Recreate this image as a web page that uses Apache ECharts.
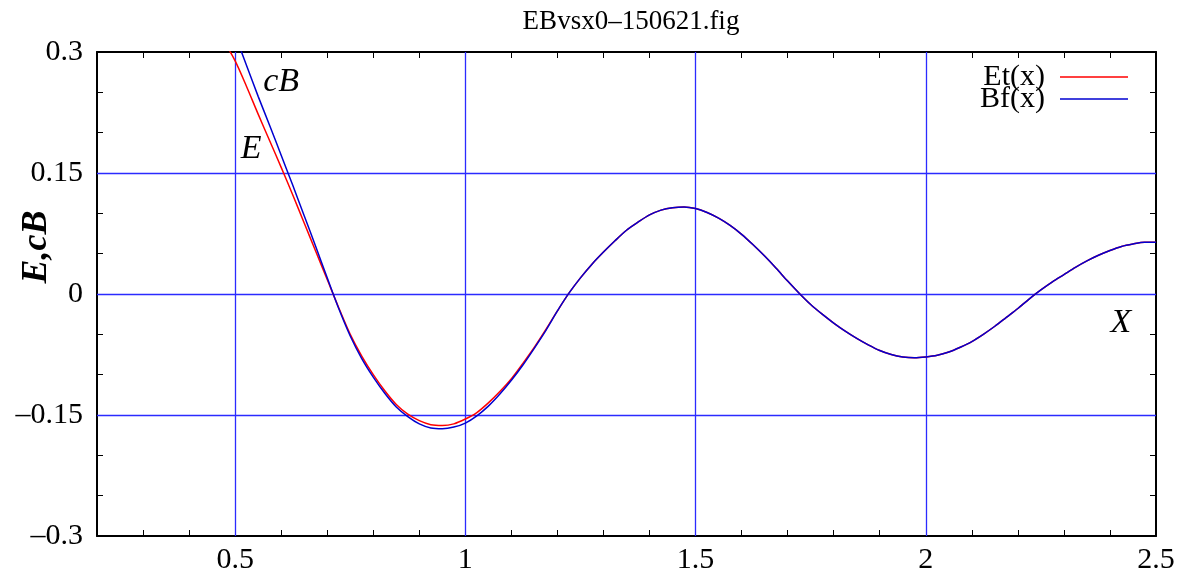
<!DOCTYPE html>
<html>
<head>
<meta charset="utf-8">
<script src="https://cdn.jsdelivr.net/npm/echarts@6/dist/echarts.min.js"></script>
<style>html,body{margin:0;padding:0;background:#fff}#c{width:1185px;height:580px}</style>
</head>
<body>
<div id="c"></div>
<script>
const xValues = [0.400,0.425,0.450,0.475,0.500,0.525,0.550,0.575,0.600,0.625,0.650,0.675,0.700,0.725,0.750,0.775,0.800,0.825,0.850,0.875,0.900,0.925,0.950,0.975,1.000,1.025,1.050,1.075,1.100,1.125,1.150,1.175,1.200,1.225,1.250,1.275,1.300,1.325,1.350,1.375,1.400,1.425,1.450,1.475,1.500,1.525,1.550,1.575,1.600,1.625,1.650,1.675,1.700,1.725,1.750,1.775,1.800,1.825,1.850,1.875,1.900,1.925,1.950,1.975,2.000,2.025,2.050,2.075,2.100,2.125,2.150,2.175,2.200,2.225,2.250,2.275,2.300,2.325,2.350,2.375,2.400,2.425,2.450,2.475,2.500];
const etValues = [0.378,0.357,0.336,0.314,0.289,0.257,0.223,0.190,0.157,0.123,0.088,0.053,0.018,-0.017,-0.050,-0.077,-0.100,-0.120,-0.137,-0.149,-0.157,-0.162,-0.163,-0.161,-0.155,-0.147,-0.135,-0.121,-0.105,-0.086,-0.066,-0.044,-0.021,0.001,0.020,0.037,0.052,0.066,0.079,0.089,0.098,0.104,0.107,0.108,0.106,0.101,0.094,0.085,0.074,0.061,0.047,0.032,0.016,0.001,-0.013,-0.025,-0.036,-0.046,-0.055,-0.063,-0.070,-0.075,-0.078,-0.079,-0.078,-0.076,-0.072,-0.066,-0.059,-0.050,-0.040,-0.029,-0.018,-0.006,0.005,0.015,0.024,0.033,0.041,0.048,0.054,0.059,0.062,0.064,0.064];
const bfValues = [0.470,0.432,0.395,0.358,0.321,0.283,0.245,0.209,0.172,0.135,0.097,0.059,0.020,-0.018,-0.052,-0.080,-0.103,-0.123,-0.140,-0.152,-0.161,-0.166,-0.167,-0.165,-0.160,-0.151,-0.139,-0.124,-0.107,-0.088,-0.067,-0.045,-0.021,0.001,0.020,0.037,0.052,0.066,0.079,0.089,0.098,0.104,0.107,0.108,0.106,0.101,0.094,0.085,0.074,0.061,0.047,0.032,0.016,0.001,-0.013,-0.025,-0.036,-0.046,-0.055,-0.063,-0.070,-0.075,-0.078,-0.079,-0.078,-0.076,-0.072,-0.066,-0.059,-0.050,-0.040,-0.029,-0.018,-0.006,0.005,0.015,0.024,0.033,0.041,0.048,0.054,0.059,0.062,0.064,0.064];
const xGridLines = [0.5, 1, 1.5, 2];
const yGridLines = [0.15, 0, -0.15];
const annotTexts = ['cB', 'E', 'X'];
const annotX = [0.60, 0.535, 2.424];
const annotY = [0.263, 0.180, -0.036];
const seriesNames = ['Et(x)', 'Bf(x)'];
const titleText = 'EBvsx0\u2013150621.fig';
const yName = 'E,cB';

const FONT = 'Liberation Serif';
const pair = (xs, ys) => xs.map((x, i) => [x, ys[i]]);
const isMult = (v, s) => Math.abs(v / s - Math.round(v / s)) < 1e-6;
const fmtNum = v => {
  const r = Math.round(v * 1000) / 1000;
  if (Math.abs(r) < 1e-9) return '0';
  return (r < 0 ? '\u2013' : '') + String(Math.abs(r));
};

const axisLine = {show: true, onZero: false, lineStyle: {color: '#000', width: 2}};
const tickIn = {show: true, inside: true, length: 6, lineStyle: {color: '#000', width: 1}};
const labelStyle = {fontFamily: FONT, fontSize: 30, color: '#000'};

const chart = echarts.init(document.getElementById('c'));
chart.setOption({
  animation: false,
  backgroundColor: '#fff',
  title: {
    text: titleText, left: 626, top: 3, textAlign: 'center',
    textStyle: {fontFamily: FONT, fontSize: 27, fontWeight: 'normal', color: '#000'}
  },
  legend: {
    orient: 'vertical', right: 52, top: 57, align: 'right', icon: 'rect',
    itemWidth: 68, itemHeight: 1.6, itemGap: -8, selectedMode: false,
    textStyle: {fontFamily: FONT, fontSize: 30, color: '#000', padding: [0, 10, 0, 0]},
    data: seriesNames
  },
  grid: {left: 97, top: 52, width: 1059, height: 484, containLabel: false, outerBoundsMode: 'none'},
  xAxis: [{
    type: 'value', position: 'bottom', min: 0.2, max: 2.5, interval: 0.1,
    axisLine: axisLine, axisTick: tickIn, splitLine: {show: false},
    axisLabel: Object.assign({margin: 9, showMinLabel: true, showMaxLabel: true,
      formatter: v => isMult(v, 0.5) ? fmtNum(v) : ''}, labelStyle)
  }, {
    type: 'value', position: 'top', min: 0.2, max: 2.5, interval: 0.1,
    axisLine: axisLine, axisTick: tickIn, splitLine: {show: false}, axisLabel: {show: false}
  }],
  yAxis: [{
    type: 'value', position: 'left', min: -0.3, max: 0.3, interval: 0.05,
    axisLine: axisLine, axisTick: tickIn, splitLine: {show: false},
    axisLabel: Object.assign({margin: 14, formatter: v => isMult(v, 0.15) ? fmtNum(v) : ''}, labelStyle),
    name: yName, nameLocation: 'middle', nameGap: 42, nameRotate: 90, nameMoveOverlap: false,
    nameTextStyle: {fontFamily: FONT, fontSize: 36, fontStyle: 'italic', fontWeight: 'bold', color: '#000', padding: [0, 0, 0, 94]}
  }, {
    type: 'value', position: 'right', min: -0.3, max: 0.3, interval: 0.05,
    axisLine: axisLine, axisTick: tickIn, splitLine: {show: false}, axisLabel: {show: false}
  }],
  series: [{
    name: seriesNames[0], type: 'line', data: pair(xValues, etValues),
    symbol: 'none', smooth: 0.3, z: 3,
    lineStyle: {color: '#ff0000', width: 1.5}, itemStyle: {color: '#ff0000'},
    markLine: {
      silent: true, symbol: ['none', 'none'], label: {show: false}, z: 1, animation: false,
      lineStyle: {color: '#2b2bff', width: 1.3, type: 'solid'},
      data: xGridLines.map(v => ({xAxis: v})).concat(yGridLines.map(v => ({yAxis: v})))
    }
  }, {
    name: seriesNames[1], type: 'line', data: pair(xValues, bfValues),
    symbol: 'none', smooth: 0.3, z: 4,
    lineStyle: {color: '#0000d0', width: 1.5}, itemStyle: {color: '#0000d0'},
    markPoint: {
      silent: true, symbol: 'circle', symbolSize: 1, animation: false,
      itemStyle: {color: 'rgba(0,0,0,0)'},
      label: {show: true, position: 'inside', formatter: p => p.name,
        fontFamily: FONT, fontSize: 34, fontStyle: 'italic', color: '#000'},
      data: annotTexts.map((t, i) => ({name: t, coord: [annotX[i], annotY[i]]}))
    }
  }]
});
</script>
</body>
</html>
